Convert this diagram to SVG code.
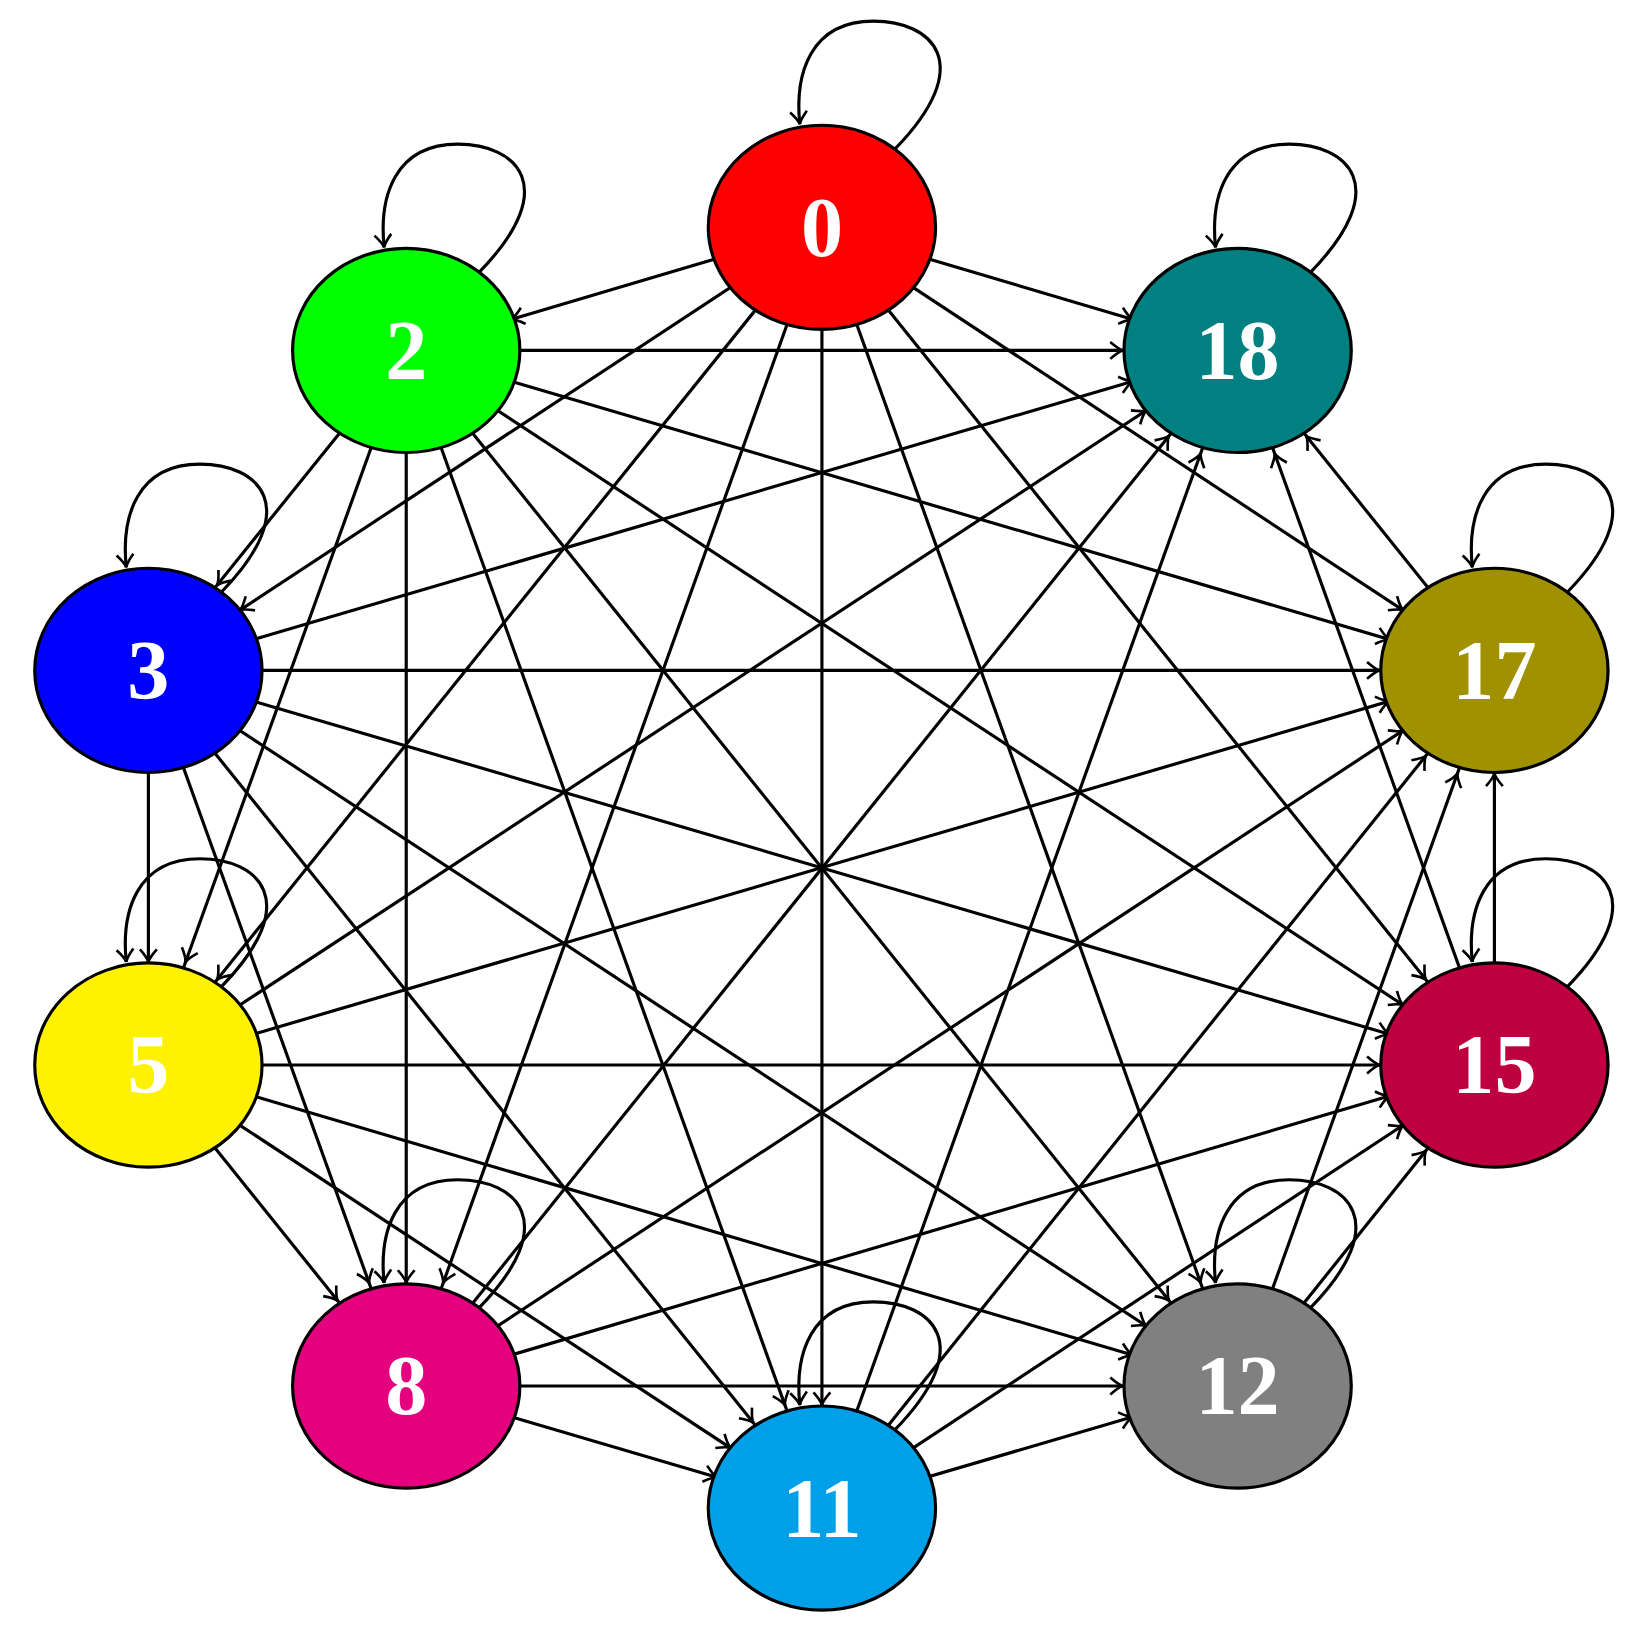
<svg xmlns="http://www.w3.org/2000/svg" width="1646" height="1628" viewBox="0 0 1646 1628">
<style>
.e line{stroke:#000;stroke-width:3;fill:none;marker-end:url(#a)}
.e line.h{marker-end:url(#ah)}
.e line.v{marker-end:url(#av)}
.e path{stroke:#000;stroke-width:3;fill:none;marker-end:url(#a0)}
.n ellipse{stroke:#000;stroke-width:3}
.n text{font-family:"Liberation Serif",serif;font-weight:bold;font-size:80px;fill:#fff;text-anchor:middle}
</style>
<defs>
<marker id="a" markerUnits="userSpaceOnUse" orient="auto" refX="0" refY="0" markerWidth="400" markerHeight="400" viewBox="-200 -200 400 400" overflow="visible"><path d="M-116,-8 Q-108,-1 -104,0 Q-108,1 -116,8" fill="none" stroke="#000" stroke-width="2.5"/></marker>
<marker id="ah" markerUnits="userSpaceOnUse" orient="auto" refX="0" refY="0" markerWidth="400" markerHeight="400" viewBox="-200 -200 400 400" overflow="visible"><path d="M-121,-8 Q-113,-1 -109,0 Q-113,1 -121,8" fill="none" stroke="#000" stroke-width="2.5"/></marker>
<marker id="av" markerUnits="userSpaceOnUse" orient="auto" refX="0" refY="0" markerWidth="400" markerHeight="400" viewBox="-200 -200 400 400" overflow="visible"><path d="M-110,-8 Q-102,-1 -98,0 Q-102,1 -110,8" fill="none" stroke="#000" stroke-width="2.5"/></marker>
<marker id="a0" markerUnits="userSpaceOnUse" orient="auto" refX="0" refY="0" markerWidth="40" markerHeight="40" viewBox="-20 -20 40 40" overflow="visible"><path d="M-12,-8 Q-4,-1 0,0 Q-4,1 -12,8" fill="none" stroke="#000" stroke-width="2.5"/></marker>
</defs>
<g transform="scale(1.0524)">
<g class="e" id="edges">
<line x1="781" y1="216" x2="386" y2="333"/><line x1="781" y1="216" x2="141" y2="637"/><line x1="781" y1="216" x2="141" y2="1012"/><line x1="781" y1="216" x2="386" y2="1317"/><line class="v" x1="781" y1="216" x2="781" y2="1433"/><line x1="781" y1="216" x2="1176" y2="1317"/><line x1="781" y1="216" x2="1420" y2="1012"/><line x1="781" y1="216" x2="1420" y2="637"/><line x1="781" y1="216" x2="1176" y2="333"/>
<line x1="386" y1="333" x2="141" y2="637"/><line x1="386" y1="333" x2="141" y2="1012"/><line class="v" x1="386" y1="333" x2="386" y2="1317"/><line x1="386" y1="333" x2="781" y2="1433"/><line x1="386" y1="333" x2="1176" y2="1317"/><line x1="386" y1="333" x2="1420" y2="1012"/><line x1="386" y1="333" x2="1420" y2="637"/><line class="h" x1="386" y1="333" x2="1176" y2="333"/>
<line class="v" x1="141" y1="637" x2="141" y2="1012"/><line x1="141" y1="637" x2="386" y2="1317"/><line x1="141" y1="637" x2="781" y2="1433"/><line x1="141" y1="637" x2="1176" y2="1317"/><line x1="141" y1="637" x2="1420" y2="1012"/><line class="h" x1="141" y1="637" x2="1420" y2="637"/><line x1="141" y1="637" x2="1176" y2="333"/>
<line x1="141" y1="1012" x2="386" y2="1317"/><line x1="141" y1="1012" x2="781" y2="1433"/><line x1="141" y1="1012" x2="1176" y2="1317"/><line class="h" x1="141" y1="1012" x2="1420" y2="1012"/><line x1="141" y1="1012" x2="1420" y2="637"/><line x1="141" y1="1012" x2="1176" y2="333"/>
<line x1="386" y1="1317" x2="781" y2="1433"/><line class="h" x1="386" y1="1317" x2="1176" y2="1317"/><line x1="386" y1="1317" x2="1420" y2="1012"/><line x1="386" y1="1317" x2="1420" y2="637"/><line x1="386" y1="1317" x2="1176" y2="333"/>
<line x1="781" y1="1433" x2="1176" y2="1317"/><line x1="781" y1="1433" x2="1420" y2="1012"/><line x1="781" y1="1433" x2="1420" y2="637"/><line x1="781" y1="1433" x2="1176" y2="333"/>
<line x1="1176" y1="1317" x2="1420" y2="1012"/><line x1="1176" y1="1317" x2="1420" y2="637"/>
<line class="v" x1="1420" y1="1012" x2="1420" y2="637"/><line x1="1420" y1="1012" x2="1176" y2="333"/>
<line x1="1420" y1="637" x2="1176" y2="333"/>
<path d="M850,142 C930,60 885,20 830,20 C770,20 755,70 760,118"/>
<path d="M455,259 C535,177 490,137 435,137 C375,137 360,187 365,235"/>
<path d="M210,563 C290,481 245,441 190,441 C130,441 115,491 120,539"/>
<path d="M210,938 C290,856 245,816 190,816 C130,816 115,866 120,914"/>
<path d="M455,1243 C535,1161 490,1121 435,1121 C375,1121 360,1171 365,1219"/>
<path d="M850,1359 C930,1277 885,1237 830,1237 C770,1237 755,1287 760,1335"/>
<path d="M1245,1243 C1325,1161 1280,1121 1225,1121 C1165,1121 1150,1171 1155,1219"/>
<path d="M1489,938 C1569,856 1524,816 1469,816 C1409,816 1394,866 1399,914"/>
<path d="M1489,563 C1569,481 1524,441 1469,441 C1409,441 1394,491 1399,539"/>
<path d="M1245,259 C1325,177 1280,137 1225,137 C1165,137 1150,187 1155,235"/>
</g>
<g class="n" id="n0"><ellipse cx="781" cy="216" rx="108" ry="97" fill="#ff0000"/><text x="781" y="243">0</text></g>
<g class="n" id="n2"><ellipse cx="386" cy="333" rx="108" ry="97" fill="#00ff00"/><text x="386" y="360">2</text></g>
<g class="n" id="n3"><ellipse cx="141" cy="637" rx="108" ry="97" fill="#0000ff"/><text x="141" y="664">3</text></g>
<g class="n" id="n5"><ellipse cx="141" cy="1012" rx="108" ry="97" fill="#fff200"/><text x="141" y="1039">5</text></g>
<g class="n" id="n8"><ellipse cx="386" cy="1317" rx="108" ry="97" fill="#e4007f"/><text x="386" y="1344">8</text></g>
<g class="n" id="n11"><ellipse cx="781" cy="1433" rx="108" ry="97" fill="#00a0e9"/><text x="781" y="1460">11</text></g>
<g class="n" id="n12"><ellipse cx="1176" cy="1317" rx="108" ry="97" fill="#808080"/><text x="1176" y="1344">12</text></g>
<g class="n" id="n15"><ellipse cx="1420" cy="1012" rx="108" ry="97" fill="#bf0040"/><text x="1420" y="1039">15</text></g>
<g class="n" id="n17"><ellipse cx="1420" cy="637" rx="108" ry="97" fill="#9f9100"/><text x="1420" y="664">17</text></g>
<g class="n" id="n18"><ellipse cx="1176" cy="333" rx="108" ry="97" fill="#008080"/><text x="1176" y="360">18</text></g>
</g>
</svg>
